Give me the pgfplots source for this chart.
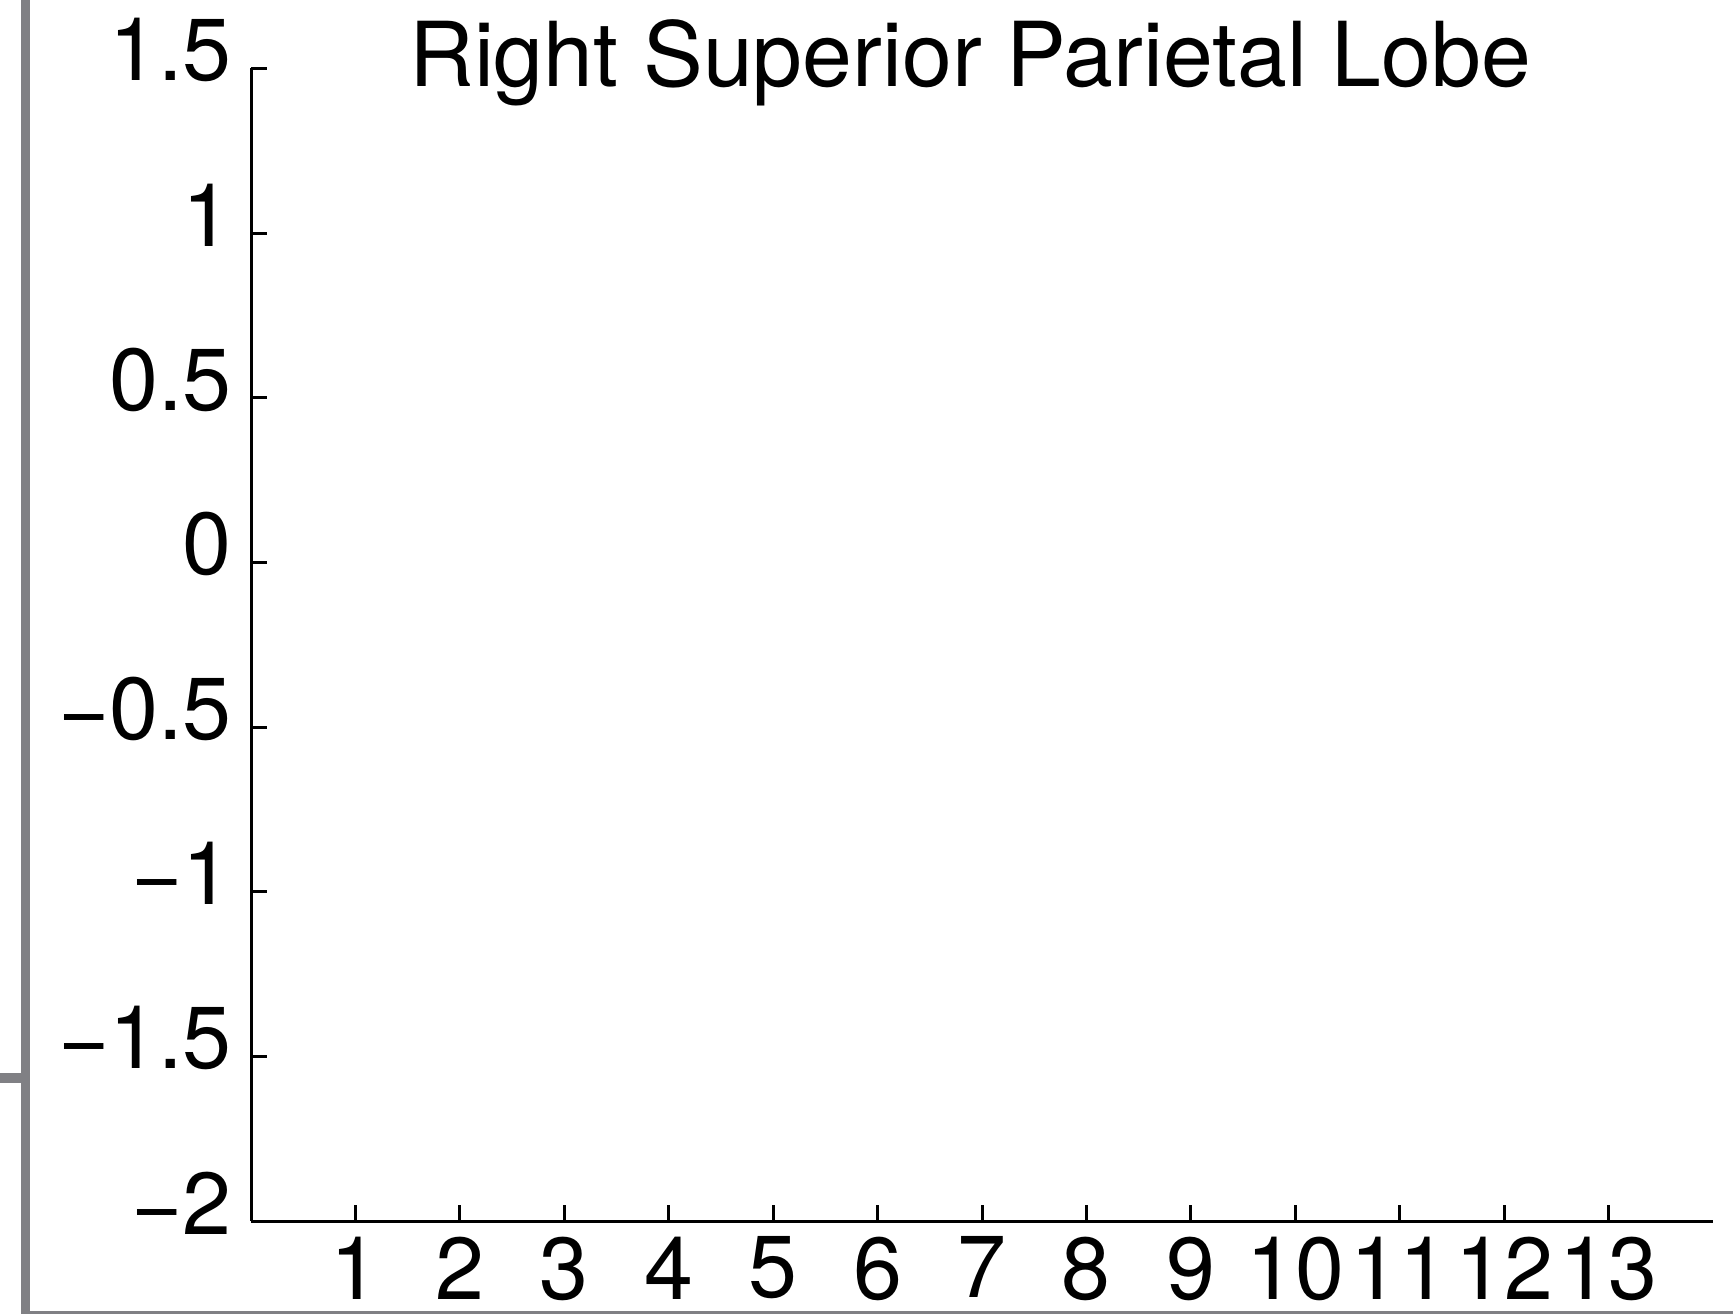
\documentclass[border=0pt]{standalone}
\usepackage{pgfplots}
\pgfplotsset{compat=1.18}
\usepackage{fontspec}
\setmainfont{TeX Gyre Heros}
\definecolor{framegray}{RGB}{128,128,132}
\begin{document}
\begin{tikzpicture}
\path[use as bounding box] (0,0) rectangle (433.25pt,-328.5pt);
\draw[framegray, line width=2.3pt] (6.3pt,0) -- (6.3pt,-329pt) -- (440pt,-329pt);
\draw[framegray, line width=2.3pt] (-2pt,-269.5pt) -- (6.3pt,-269.5pt);
\begin{axis}[
  at={(62.75pt,-305.25pt)}, anchor=south west,
  scale only axis, width=365.5pt, height=288.15pt,
  xmin=0, xmax=14, ymin=-2, ymax=1.5,
  axis x line=bottom, axis y line=left,
  axis line style={-, line width=0.75pt, black},
  tick align=inside,
  major tick length=4pt,
  tick style={line width=0.75pt, black},
  xtick={1,2,3,4,5,6,7,8,9,10,11,12,13},
  xticklabels={1,2,3,4,5,6,7,8,9,10,11,12,13},
  ytick={-2,-1.5,-1,-0.5,0,0.5,1,1.5},
  yticklabels={−2,−1.5,−1,−0.5,0,0.5,1,1.5},
  xticklabel style={font=\fontsize{22}{26}\selectfont, anchor=north, inner sep=0pt, yshift=-3.7pt},
  yticklabel style={font=\fontsize{22}{26}\selectfont, anchor=east, inner sep=0pt, xshift=-4.6pt, yshift=4.5pt},
  title={Right Superior Parietal Lobe},
  title style={font=\fontsize{22.4}{26}\selectfont, at={(0.492,1)}, anchor=base, inner sep=0pt, yshift=-10.6pt},
]
\addplot[draw=none] coordinates {(1,0)};
\end{axis}
\end{tikzpicture}
\end{document}
